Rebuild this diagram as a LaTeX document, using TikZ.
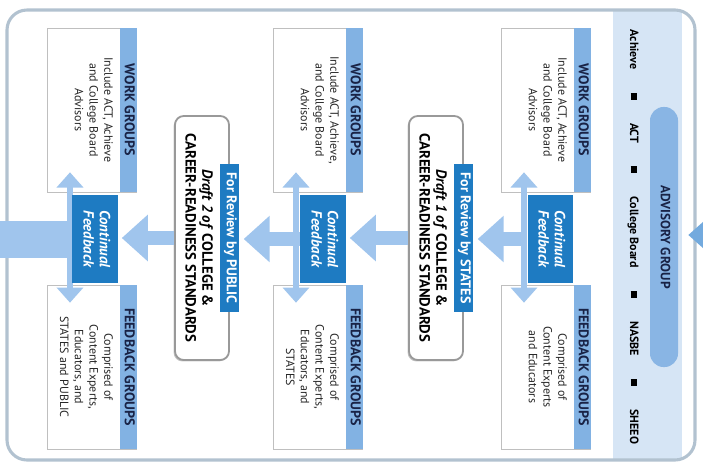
\documentclass[tikz,border=0pt]{standalone}
\usepackage{fontspec}
\setmainfont{PT Sans}
\usepackage{tikz}
\usetikzlibrary{arrows.meta,positioning,shadows}

\definecolor{deepblue}{RGB}{30,123,194}
\definecolor{stripeblue}{RGB}{130,178,227}
\definecolor{arrowblue}{RGB}{160,197,237}
\definecolor{bandblue}{RGB}{214,229,245}
\definecolor{advblue}{RGB}{137,181,228}
\definecolor{framegray}{RGB}{178,194,208}
\definecolor{navy}{RGB}{25,35,70}

\newcommand{\vtext}[1]{\rotatebox{-90}{\begin{tabular}{@{}c@{}}#1\end{tabular}}}
\newcommand{\sqmark}{\rule[0.1ex]{0.55em}{0.55em}}

\begin{document}
\begin{tikzpicture}[x=0.025cm, y=-0.025cm]
	\tikzstyle{groupbox} = [rectangle, draw=black!25, fill=white, inner sep=0pt,
	minimum width=2.225cm, minimum height=4.1cm]
	\tikzstyle{stripe} = [rectangle, fill=stripeblue, text=navy, inner sep=0pt,
	minimum width=0.425cm, minimum height=4.1cm, font=\fontsize{10}{11}\selectfont\bfseries]
	\tikzstyle{bodytext} = [inner sep=0pt, text=black!85, font=\fontsize{8.5}{10.5}\selectfont]
	\tikzstyle{feedbox} = [rectangle, fill=deepblue, text=white, inner sep=0pt,
	minimum width=1.125cm, minimum height=2.2cm, font=\fontsize{10.5}{11.5}\selectfont\bfseries\itshape]
	\tikzstyle{draftbox} = [rectangle, rounded corners=0.22cm, draw=black!40, line width=1.3pt,
	fill=white, minimum width=1.35cm, minimum height=6.1cm,
	drop shadow={shadow xshift=-1pt, shadow yshift=-1pt, opacity=0.45}]
	\tikzstyle{tab} = [rectangle, fill=deepblue, text=white, inner sep=0pt,
	minimum width=0.475cm, minimum height=3.7cm, font=\fontsize{10}{11}\selectfont\bfseries]
	\tikzstyle{drafttext} = [inner sep=0pt, font=\fontsize{10.5}{12}\selectfont\bfseries]
	\tikzstyle{vline} = [draw=arrowblue, line width=0.15cm,
	{Triangle[width=0.65cm,length=0.38cm]}-{Triangle[width=0.65cm,length=0.38cm]}]
	\tikzstyle{hline} = [draw=arrowblue, line width=0.35cm, shorten >=0.1cm,
	-{Triangle[width=1.125cm,length=0.65cm]}]
	\useasboundingbox (0,0) rectangle (703,469);
	\clip (0,0) rectangle (703,469);
	% Frame and advisory band
	\begin{scope}
		\clip[rounded corners=0.5cm] (7,10) rectangle (695,460);
		\fill[bandblue] (613,10) rectangle (682,460);
	\end{scope}
	\draw[framegray, line width=2.2pt, rounded corners=0.5cm] (7,10) rectangle (695,460);
	\node [inner sep=0pt, font=\fontsize{8.5}{10}\selectfont\bfseries] (members) at (633,237)
	{\rotatebox{-90}{\hbox to 10.35cm{Achieve\hfill\sqmark\hfill ACT\hfill\sqmark\hfill
	College Board\hfill\sqmark\hfill NASBE\hfill\sqmark\hfill SHEEO}}};
	\node [rectangle, rounded corners=0.34cm, fill=advblue, text=navy, inner sep=0pt,
	minimum width=0.7cm, minimum height=6.5cm, font=\fontsize{9.5}{11}\selectfont\bfseries]
	(adv) at (664,237) {\vtext{ADVISORY GROUP}};
	\coordinate (advin) at (730,235);
	\draw [draw=stripeblue!85!deepblue, line width=0.2cm, shorten >=0.25cm,
	-{Triangle[width=0.65cm,length=0.38cm]}] (advin) -- (advin -| adv.east);
	% Group boxes
	\node [groupbox] (w1) at (546,110) {};
	\node [groupbox] (f1) at (546,367) {};
	\node [groupbox] (w2) at (318,110) {};
	\node [groupbox] (f2) at (318,367) {};
	\node [groupbox] (w3) at (92,110) {};
	\node [groupbox] (f3) at (92,367) {};
	\node [stripe, anchor=east] (wh1) at (w1.east) {\vtext{WORK GROUPS}};
	\node [stripe, anchor=east] (fh1) at (f1.east) {\vtext{FEEDBACK GROUPS}};
	\node [stripe, anchor=east] (wh2) at (w2.east) {\vtext{WORK GROUPS}};
	\node [stripe, anchor=east] (fh2) at (f2.east) {\vtext{FEEDBACK GROUPS}};
	\node [stripe, anchor=east] (wh3) at (w3.east) {\vtext{WORK GROUPS}};
	\node [stripe, anchor=east] (fh3) at (f3.east) {\vtext{FEEDBACK GROUPS}};
	\node [bodytext, left=3pt of wh1] (wt1) {\vtext{Include ACT, Achieve\\and College Board\\Advisors}};
	\node [bodytext, left=3pt of fh1] (ft1) {\vtext{Comprised of\\Content Experts\\and Educators}};
	\node [bodytext, left=3pt of wh2] (wt2) {\vtext{Include ACT, Achieve,\\and College Board\\Advisors}};
	\node [bodytext, left=3pt of fh2] (ft2) {\vtext{Comprised of\\Content Experts,\\Educators, and\\STATES}};
	\node [bodytext, left=3pt of wh3] (wt3) {\vtext{Include ACT, Achieve\\and College Board\\Advisors}};
	\node [bodytext, left=3pt of fh3] (ft3) {\vtext{Comprised of\\Content Experts,\\Educators, and\\STATES and PUBLIC}};
	% Feedback loops
	\draw [vline] ([xshift=-0.55cm, yshift=0.5cm]w1.south) -- ([xshift=-0.55cm, yshift=-0.45cm]f1.north);
	\draw [vline] ([xshift=-0.55cm, yshift=0.5cm]w2.south) -- ([xshift=-0.55cm, yshift=-0.45cm]f2.north);
	\draw [vline] ([xshift=-0.55cm, yshift=0.5cm]w3.south) -- ([xshift=-0.55cm, yshift=-0.45cm]f3.north);
	\node [feedbox] (c1) at (550,239) {\vtext{Continual\\Feedback}};
	\node [feedbox] (c2) at (323,239) {\vtext{Continual\\Feedback}};
	\node [feedbox] (c3) at (95,239) {\vtext{Continual\\Feedback}};
	% Drafts
	\node [draftbox] (d1) at (436,238) {};
	\node [draftbox] (d2) at (202,238) {};
	\node [tab] (t1) at (d1.east) {\vtext{For Review by STATES}};
	\node [tab] (t2) at (d2.east) {\vtext{For Review by PUBLIC}};
	\node [drafttext, left=4pt of t1] (dt1) {\vtext{\textit{Draft 1 of} COLLEGE \&\\CAREER-READINESS STANDARDS}};
	\node [drafttext, left=4pt of t2] (dt2) {\vtext{\textit{Draft 2 of} COLLEGE \&\\CAREER-READINESS STANDARDS}};
	% Flow
	\coordinate (exit) at (-10,236);
	\draw [hline] (c1.west) -- (c1.west -| t1.east);
	\draw [hline] (d1.west) -- (d1.west -| c2.east);
	\draw [hline] (c2.west) -- (c2.west -| t2.east);
	\draw [hline] (d2.west) -- (d2.west -| c3.east);
	\draw [draw=arrowblue, line width=0.925cm] (c3.west) -- (c3.west -| exit);
\end{tikzpicture}
\end{document}
